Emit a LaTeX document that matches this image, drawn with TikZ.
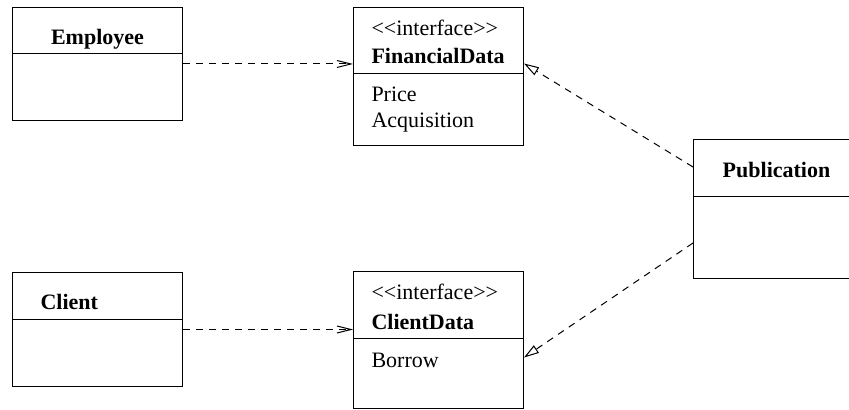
\documentclass[tikz,border=0pt]{standalone}
\usepackage{fontspec}
\setmainfont{Liberation Serif}
\usepackage{tikz}
\usetikzlibrary{positioning}
\usetikzlibrary{shapes.multipart}
\usetikzlibrary{arrows.meta}

\newcommand{\clsht}[1]{\rule{0pt}{#1}}
\newcommand{\clsdp}[1]{\rule[-#1]{0pt}{#1}}

\tikzset{
    cls/.style={draw, line width=0.5pt, rectangle split, rectangle split parts=2,
        inner ysep=0pt, inner xsep=9pt, text width=67pt, align=left},
    dep/.style={line width=0.5pt, dash pattern=on 3.5pt off 3pt,
        -{Straight Barb[length=7pt,width=3.5pt]}},
    real/.style={line width=0.5pt, dash pattern=on 3.5pt off 3pt,
        -{Triangle[open,length=7.5pt,width=4.5pt]}}
}

\begin{document}
\begin{tikzpicture}[x=0.5pt, y=-0.5pt, font=\rmfamily\fontsize{11pt}{13pt}\selectfont]
    \useasboundingbox (0,0) rectangle (849,410);
    \clip (0,0) rectangle (849,410);

    % classes
    \node [cls, align=center, anchor=north west] (employee) at (12,7)
        {\clsht{18.5pt}\textbf{Employee}\clsdp{4pt}
        \nodepart{two}\clsht{33pt}};
    \node [cls, inner xsep=14pt, text width=57pt, below=75.5pt of employee.south west, anchor=north west] (client)
        {\clsht{18.5pt}\textbf{Client}\clsdp{4.5pt}
        \nodepart{two}\clsht{33pt}};

    % interfaces
    \node [cls, right=85pt of employee.north east, anchor=north west] (financial)
        {\clsht{14pt}<\kern0pt<interface>\kern0pt>\\[1pt]\textbf{FinancialData}\clsdp{4.5pt}
        \nodepart{two}\clsht{14pt}Price\\Acquisition\clsdp{8.5pt}};
    \node [cls, right=85pt of client.north east, anchor=north west, yshift=0.5pt] (clientdata)
        {\clsht{14pt}<\kern0pt<interface>\kern0pt>\\[1.5pt]\textbf{ClientData}\clsdp{4.5pt}
        \nodepart{two}\clsht{14pt}Borrow\clsdp{20.5pt}};

    % publication
    \node [cls, align=center, text width=65pt, below right=66pt and 84.5pt of financial.north east, anchor=north west] (publication)
        {\clsht{19pt}\textbf{Publication}\clsdp{9pt}
        \nodepart{two}\clsht{40.5pt}};

    \draw [dep] (employee.east) -- (employee.east -| financial.west);
    \draw [dep] (client.east) -- (client.east -| clientdata.west);

    \draw [real] ([yshift=21pt]publication.west) -- ([yshift=6.5pt]financial.east);
    \draw [real] ([yshift=-17pt]publication.west) -- ([yshift=-8.75pt]clientdata.east);
\end{tikzpicture}
\end{document}
